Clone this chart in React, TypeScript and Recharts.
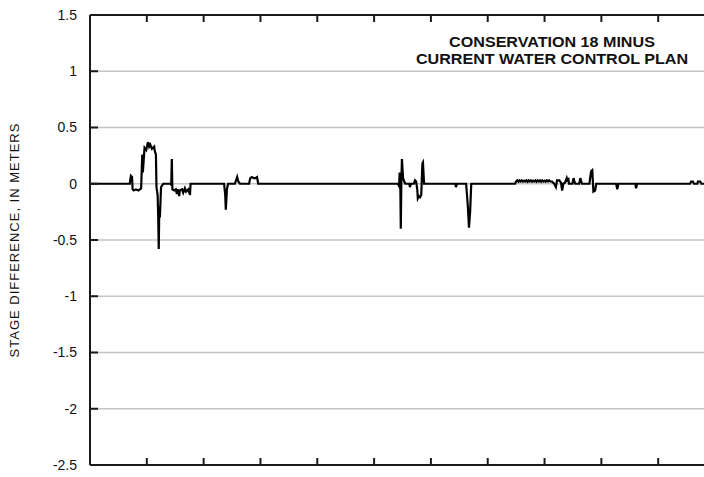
import { CartesianGrid, Line, LineChart, XAxis, YAxis } from 'recharts';

// Day index (tick every 100 days) and stage difference in meters
const days = [
  0, 70, 72, 74, 75, 77, 81, 85, 88, 90, 92, 93, 96, 99, 102, 104, 106, 109, 113, 114,
  116, 117, 119, 120, 121, 122, 123, 125, 129, 141, 143, 144, 145, 148, 151, 153, 155, 157, 158, 162,
  164, 167, 169, 173, 176, 177, 236, 238, 239, 241, 243, 255, 257, 259, 261, 264, 280, 282, 285, 288,
  291, 294, 296, 542, 544, 545, 546, 547, 548, 549, 551, 553, 555, 562, 563, 565, 570, 572, 574, 576,
  577, 579, 581, 583, 585, 586, 588, 643, 644, 646, 662, 665, 667, 669, 671, 748, 750, 752, 754, 756,
  758, 760, 762, 764, 766, 768, 770, 772, 774, 776, 778, 780, 782, 784, 786, 788, 790, 792, 794, 796,
  798, 800, 802, 804, 806, 808, 810, 813, 817, 820, 822, 826, 829, 831, 833, 836, 839, 840, 842, 843,
  849, 851, 852, 854, 861, 863, 864, 866, 879, 880, 882, 884, 886, 889, 891, 926, 928, 930, 960, 961,
  963, 1056, 1058, 1061, 1063, 1069, 1070, 1074, 1076, 1100,
];

const stageDiff = [
  0, 0, 0.07, 0.06, -0.05, -0.06, -0.05, -0.06, -0.05, -0.04, 0.26, 0.1, 0.32, 0.3, 0.37, 0.33, 0.35, 0.31, 0.33, 0.29,
  0.26, -0.03, -0.1, -0.28, -0.58, -0.2, -0.3, -0.03, 0, 0, -0.01, 0.22, -0.05, -0.06, -0.05, -0.09, -0.05, -0.11, -0.06, -0.05,
  -0.08, -0.04, -0.07, -0.05, -0.1, 0, 0, -0.1, -0.23, -0.05, 0, 0, 0.03, 0.06, 0.02, 0, 0, 0.05, 0.06, 0.05,
  0.05, 0.06, 0, 0, -0.02, 0.1, 0.08, -0.4, 0.03, 0.22, 0.05, 0.02, 0, 0, -0.03, 0, 0, 0.03, 0.02, -0.05,
  -0.13, -0.11, -0.12, -0.1, 0.18, 0.19, 0, 0, -0.03, 0, 0, -0.2, -0.39, -0.25, 0, 0, 0.02, 0.03, 0.018, 0.03,
  0.02, 0.03, 0.018, 0.028, 0.02, 0.03, 0.018, 0.03, 0.02, 0.03, 0.018, 0.028, 0.02, 0.03, 0.018, 0.03,
  0.02, 0.03, 0.018, 0.03, 0.02, 0.028, 0.018, 0.03, 0.02, 0.03, 0.02, 0.02, 0, -0.03, 0.03, 0.03, 0.01, -0.06, 0, 0.01,
  0.05, 0.03, 0.04, 0, 0, 0.05, 0.03, 0, 0, 0.05, 0.03, 0, 0, 0.04, 0.11, 0.12, -0.07, -0.06, 0, 0,
  -0.05, 0, 0, -0.04, 0, 0, 0.02, 0.02, 0, 0, 0.02, 0.02, 0, 0,
];

const dayTicks = [100, 200, 300, 400, 500, 600, 700, 800, 900, 1000];
const meterTicks = [-2.5, -2, -1.5, -1, -0.5, 0, 0.5, 1, 1.5];

const data = days.map((d, i) => ({ day: d, diff: stageDiff[i] }));

const font = '"Liberation Sans", Arial, Helvetica, sans-serif';
const axisColor = '#1a1a1a';

export default function App() {
  return (
    <div
      style={{
        position: 'fixed',
        left: 0,
        top: 0,
        width: 704,
        height: 477,
        overflow: 'hidden',
        background: '#fff',
        fontFamily: font,
      }}
    >
      <LineChart
        width={725}
        height={477}
        data={data}
        margin={{ top: 0, right: 0, bottom: 0, left: 0 }}
      >
        <CartesianGrid vertical={false} stroke="#c4c4c4" strokeWidth={1.5} yAxisId="left" />
        <XAxis
          xAxisId="bottom"
          dataKey="day"
          type="number"
          domain={[0, 1100]}
          ticks={dayTicks}
          height={12}
          tickSize={-7}
          tickFormatter={() => ''}
          stroke={axisColor}
          strokeWidth={2}
        />
        <XAxis
          xAxisId="top"
          orientation="top"
          dataKey="day"
          type="number"
          domain={[0, 1100]}
          ticks={dayTicks}
          height={15}
          tickSize={-7}
          tickFormatter={() => ''}
          stroke={axisColor}
          strokeWidth={2}
        />
        <YAxis
          yAxisId="left"
          type="number"
          domain={[-2.5, 1.5]}
          ticks={meterTicks}
          width={90}
          tickSize={-8}
          tickMargin={21}
          stroke={axisColor}
          strokeWidth={2}
          tick={{ fill: '#111', fontSize: 14, fontFamily: font }}
        />
        <YAxis
          yAxisId="right"
          orientation="right"
          type="number"
          domain={[-2.5, 1.5]}
          ticks={meterTicks}
          width={10}
          tickSize={-8}
          tickFormatter={() => ''}
          stroke={axisColor}
          strokeWidth={2}
        />
        <Line
          xAxisId="bottom"
          yAxisId="left"
          type="linear"
          dataKey="diff"
          stroke="#000"
          strokeWidth={2.2}
          dot={false}
          isAnimationActive={false}
        />
      </LineChart>
      <div
        style={{
          position: 'absolute',
          left: 402,
          top: 34,
          width: 300,
          textAlign: 'center',
          fontSize: 14,
          fontWeight: 'bold',
          lineHeight: '17px',
          color: '#111',
          transform: 'scaleX(1.15)',
        }}
      >
        CONSERVATION 18 MINUS
        <br />
        CURRENT WATER CONTROL PLAN
      </div>
      <div
        style={{
          position: 'absolute',
          left: 14,
          top: 240,
          fontSize: 13,
          letterSpacing: 1,
          color: '#111',
          whiteSpace: 'nowrap',
          transform: 'translate(-50%, -50%) rotate(-90deg)',
        }}
      >
        STAGE DIFFERENCE, IN METERS
      </div>
    </div>
  );
}
